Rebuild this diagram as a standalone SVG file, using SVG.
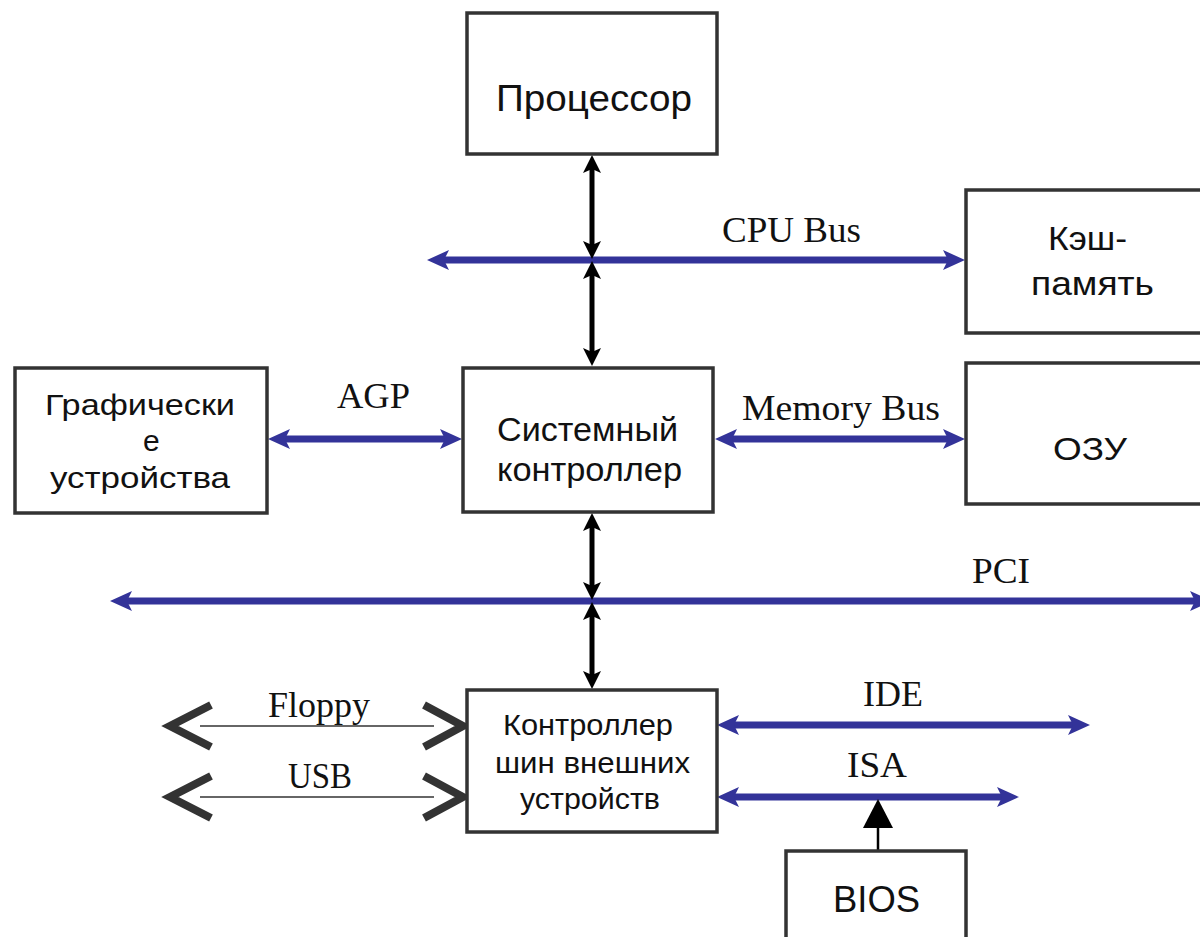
<svg xmlns="http://www.w3.org/2000/svg" width="1200" height="937" viewBox="0 0 1200 937">
<style>
.box{fill:#fff;stroke:#333;stroke-width:3.5}
.bt{font-family:"Liberation Sans",Arial,sans-serif;fill:#111}
.lbl{font-family:"Liberation Serif","Times New Roman",serif;font-size:36px;fill:#111}
.bus{stroke:#333399;stroke-width:7;fill:none;marker-start:url(#ab);marker-end:url(#ab)}
.vb{stroke:#000;stroke-width:5;fill:none;marker-start:url(#ak);marker-end:url(#ak)}
.thin{stroke:#333;stroke-width:1.6;fill:none}
.chev{stroke:#333;stroke-width:8;fill:none;stroke-linejoin:miter}
</style>
<defs>
<marker id="ab" viewBox="-24 -12 26 24" refX="-12" refY="0" markerWidth="26" markerHeight="24" markerUnits="userSpaceOnUse" orient="auto-start-reverse">
<path d="M0,0 L-22,-10 L-17,0 L-22,10 Z" fill="#333399"/>
</marker>
<marker id="ak" viewBox="-20 -10 22 20" refX="-10" refY="0" markerWidth="22" markerHeight="20" markerUnits="userSpaceOnUse" orient="auto-start-reverse">
<path d="M0,0 L-18,-9 L-14,0 L-18,9 Z" fill="#000"/>
</marker>
</defs>
<g id="connectors">
<line class="bus" x1="439" y1="260" x2="953" y2="260"/>
<line class="vb" x1="592" y1="165" x2="592" y2="249"/>
<line class="vb" x1="592" y1="271" x2="592" y2="356"/>
<line class="bus" x1="280" y1="439" x2="450" y2="439"/>
<line class="bus" x1="727" y1="439" x2="953" y2="439"/>
<line class="bus" x1="122" y1="601" x2="1200" y2="601"/>
<line class="vb" x1="592" y1="523" x2="592" y2="590"/>
<line class="vb" x1="592" y1="612" x2="592" y2="679"/>
<line class="bus" x1="729" y1="725" x2="1078" y2="725"/>
<line class="bus" x1="729" y1="797" x2="1007" y2="797"/>
<line class="thin" x1="200" y1="726" x2="434" y2="726"/>
<polyline class="chev" points="211,705 170,726 211,747"/>
<polyline class="chev" points="424,705 463,726 424,747"/>
<line class="thin" x1="200" y1="797" x2="434" y2="797"/>
<polyline class="chev" points="211,776 170,797 211,818"/>
<polyline class="chev" points="424,776 463,797 424,818"/>
<line x1="878" y1="851" x2="878" y2="826" stroke="#000" stroke-width="2.5"/>
<polygon points="878,799 863,828 893,828" fill="#000"/>
</g>
<g id="n-cpu">
<rect class="box" x="467" y="13" width="250" height="141"/>
<text class="bt" x="496" y="111" font-size="36" textLength="196" lengthAdjust="spacingAndGlyphs">Процессор</text>
</g>
<g id="n-cache">
<rect class="box" x="966" y="190" width="250" height="143"/>
<text class="bt" x="1048" y="250" font-size="34" textLength="79" lengthAdjust="spacingAndGlyphs">Кэш-</text>
<text class="bt" x="1031" y="295" font-size="34" textLength="123" lengthAdjust="spacingAndGlyphs">память</text>
</g>
<g id="n-gfx">
<rect class="box" x="15" y="368" width="252" height="145"/>
<text class="bt" x="45" y="415" font-size="30" textLength="190" lengthAdjust="spacingAndGlyphs">Графически</text>
<text class="bt" x="143" y="451" font-size="30">е</text>
<text class="bt" x="50" y="488" font-size="30" textLength="180" lengthAdjust="spacingAndGlyphs">устройства</text>
</g>
<g id="n-sys">
<rect class="box" x="463" y="368" width="250" height="144"/>
<text class="bt" x="497" y="441" font-size="34" textLength="181" lengthAdjust="spacingAndGlyphs">Системный</text>
<text class="bt" x="497" y="481" font-size="34" textLength="185" lengthAdjust="spacingAndGlyphs">контроллер</text>
</g>
<g id="n-ram">
<rect class="box" x="966" y="363" width="250" height="141"/>
<text class="bt" x="1053" y="460" font-size="32" textLength="74" lengthAdjust="spacingAndGlyphs">ОЗУ</text>
</g>
<g id="n-sb">
<rect class="box" x="467" y="690" width="250" height="142"/>
<text class="bt" x="503" y="735" font-size="30" textLength="170" lengthAdjust="spacingAndGlyphs">Контроллер</text>
<text class="bt" x="495" y="773" font-size="30" textLength="195" lengthAdjust="spacingAndGlyphs">шин внешних</text>
<text class="bt" x="520" y="809" font-size="30" textLength="140" lengthAdjust="spacingAndGlyphs">устройств</text>
</g>
<g id="n-bios">
<rect class="box" x="786" y="851" width="180" height="100"/>
<text class="bt" x="833" y="912" font-size="37" textLength="87" lengthAdjust="spacingAndGlyphs">BIOS</text>
</g>
<g id="labels">
<text class="lbl" x="722" y="242" textLength="139" lengthAdjust="spacingAndGlyphs">CPU Bus</text>
<text class="lbl" x="337" y="408" textLength="73" lengthAdjust="spacingAndGlyphs">AGP</text>
<text class="lbl" x="742" y="420" textLength="198" lengthAdjust="spacingAndGlyphs">Memory Bus</text>
<text class="lbl" x="972" y="583" textLength="58" lengthAdjust="spacingAndGlyphs">PCI</text>
<text class="lbl" x="268" y="717" textLength="102" lengthAdjust="spacingAndGlyphs">Floppy</text>
<text class="lbl" x="288" y="788" textLength="64" lengthAdjust="spacingAndGlyphs">USB</text>
<text class="lbl" x="863" y="706" textLength="60" lengthAdjust="spacingAndGlyphs">IDE</text>
<text class="lbl" x="847" y="777" textLength="60" lengthAdjust="spacingAndGlyphs">ISA</text>
</g>
</svg>
